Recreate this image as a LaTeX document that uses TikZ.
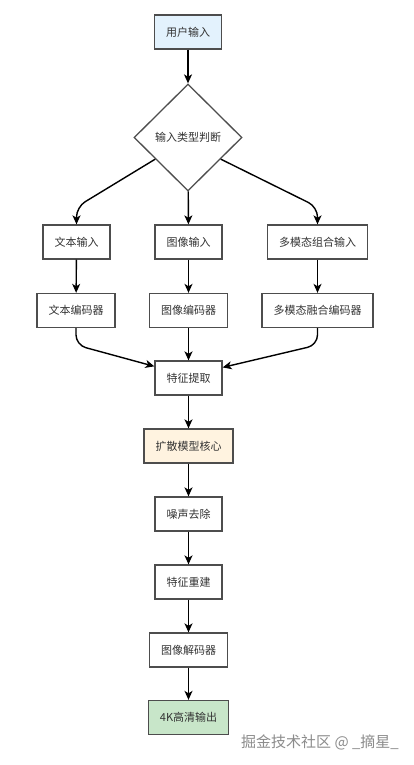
\documentclass[tikz,border=0pt]{standalone}
\usepackage{fontspec}
\newfontfamily\cjk{Noto Sans CJK SC}
\usetikzlibrary{arrows.meta,shapes.geometric,calc}
\definecolor{bd}{HTML}{4D4D4D}
\definecolor{txt}{HTML}{333333}
\definecolor{inblue}{HTML}{E3F2FD}
\definecolor{corey}{HTML}{FFF3E0}
\definecolor{outg}{HTML}{C8E6C9}
\begin{document}
\begin{tikzpicture}[x=1pt,y=-1pt,
  box/.style={draw=bd, line width=1.3pt, fill=white, minimum height=34pt, inner xsep=11.5pt, inner ysep=0pt, font=\cjk\fontsize{11}{13}\selectfont, text=txt},
  arr/.style={-{Stealth[length=9pt,width=8pt,inset=2.5pt]}, line width=1.4pt, black},
  curvearr/.style={arr, rounded corners=10pt}]
\useasboundingbox[fill=white] (0,0) rectangle (414,765);
\node[box, fill=inblue] (u) at (188,32) {用户输入};
\node[draw=bd, line width=1.3pt, fill=white, diamond, minimum width=108pt, minimum height=107pt, inner sep=0pt, font=\cjk\fontsize{11}{13}\selectfont, text=txt] (d) at (188,137.5) {输入类型判断};
\node[box] (ti) at (76.5,242) {文本输入};
\node[box] (ii) at (188.5,242) {图像输入};
\node[box] (mi) at (317.5,242) {多模态组合输入};
\node[box] (te) at (76,310.5) {文本编码器};
\node[box] (ie) at (188.5,310.5) {图像编码器};
\node[box] (me) at (317.5,310.5) {多模态融合编码器};
\node[box] (fx) at (188.5,378) {特征提取};
\node[box, fill=corey] (core) at (188.5,446) {扩散模型核心};
\node[box] (nr) at (188.5,514) {噪声去除};
\node[box] (fr) at (188.5,582) {特征重建};
\node[box] (dec) at (188.5,650) {图像解码器};
\node[box, fill=outg] (out) at (188.5,717.5) {4K高清输出};
\node[font=\cjk\fontsize{15}{17}\selectfont, text=black!45, anchor=west, inner sep=0pt] (wm) at (241,742) {掘金技术社区 @ \_摘星\_};

\draw[arr] (u) -- (d);
\draw[arr] (d) -- (ii);
\coordinate (l1) at (ti.north |- 0,207);
\coordinate (r1) at (mi.north |- 0,207);
\draw[curvearr] ($(d.south)!0.6!(d.west)$) -- (l1) -- (ti.north);
\draw[curvearr] ($(d.south)!0.6!(d.east)$) -- (r1) -- (mi.north);
\draw[arr] (ti) -- (te);
\draw[arr] (ii) -- (ie);
\draw[arr] (mi) -- (me);
\coordinate (l2) at (te.south |- 0,345);
\coordinate (r2) at (me.south |- 0,345);
\draw[curvearr] (te.south) -- (l2) -- ($(fx.north west)!0.17!(fx.south west)$);
\draw[curvearr] (me.south) -- (r2) -- ($(fx.north east)!0.2!(fx.south east)$);
\draw[arr] (ie) -- (fx);
\draw[arr] (fx) -- (core);
\draw[arr] (core) -- (nr);
\draw[arr] (nr) -- (fr);
\draw[arr] (fr) -- (dec);
\draw[arr] (dec) -- (out);
\end{tikzpicture}
\end{document}
